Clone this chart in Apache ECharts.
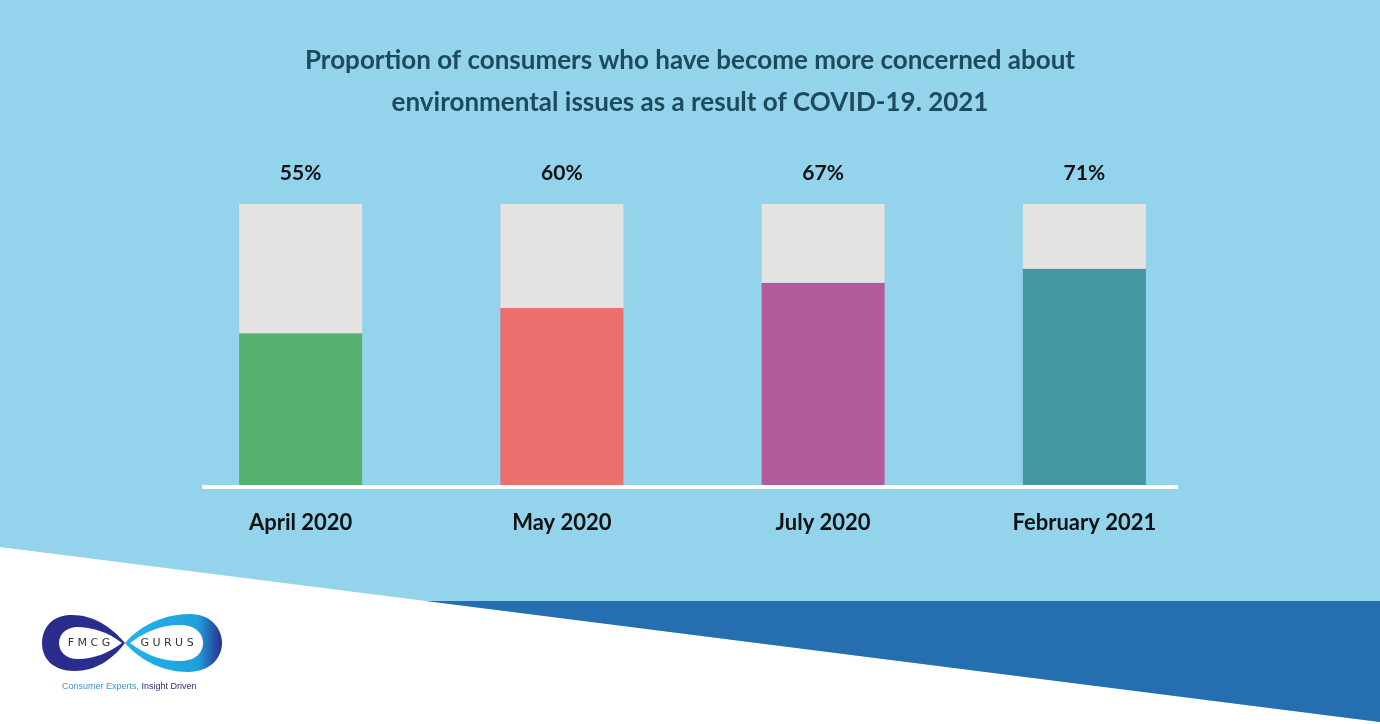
<!DOCTYPE html>
<html>
<head>
<meta charset="utf-8">
<script src="https://cdn.jsdelivr.net/npm/echarts@6/dist/echarts.min.js"></script>
<style>html,body{margin:0;padding:0;background:#93d3ec;}#c{width:1380px;height:724px;}</style>
</head>
<body>
<div id="c"></div>
<script>
// Categories and values
const categories = ['April 2020', 'May 2020', 'July 2020', 'February 2021'];
// Printed percentage labels
const labelValues = [55, 60, 67, 71];
// Bar heights as drawn in the reference (% of the full grey column)
const drawnValues = [54, 63, 72, 77];
const barColors = ['#55b16f', '#ec6f6f', '#b35a9b', '#4396a2'];
const remainder = drawnValues.map(v => 100 - v);

const FONT = 'Lato';

// custom bezier shape for the logo
const BezShape = echarts.graphic.extendShape({
  shape: {start: [0, 0], curves: []},
  buildPath: function (ctx, shape) {
    ctx.moveTo(shape.start[0], shape.start[1]);
    shape.curves.forEach(c => ctx.bezierCurveTo(c[0], c[1], c[2], c[3], c[4], c[5]));
    ctx.closePath();
  }
});
echarts.graphic.registerShape('bez', BezShape);

const chart = echarts.init(document.getElementById('c'), null, {renderer: 'canvas'});

const option = {
  backgroundColor: '#93d3ec',
  animation: false,
  title: {
    text: 'Proportion of consumers who have become more concerned about\nenvironmental issues as a result of COVID-19. 2021',
    left: 'center',
    top: 35,
    textStyle: {fontFamily: FONT, fontSize: 26, fontWeight: 'bold', color: '#1d4a5c', lineHeight: 42}
  },
  grid: {left: 170, right: 165, top: 204, bottom: 239},
  xAxis: {
    type: 'category',
    data: categories,
    axisLine: {show: false},
    axisTick: {show: false},
    axisLabel: {margin: 27, fontFamily: FONT, fontSize: 22, fontWeight: 'bold', color: '#111'}
  },
  yAxis: {type: 'value', min: 0, max: 100, show: false, splitLine: {show: false}},
  series: [
    {
      type: 'bar', stack: 'a', barWidth: 123,
      data: drawnValues.map((v, i) => ({value: v, itemStyle: {color: barColors[i]}}))
    },
    {
      type: 'bar', stack: 'a', barWidth: 123,
      itemStyle: {color: '#e4e3e1'},
      data: remainder,
      label: {
        show: true, position: 'top', distance: 20,
        fontFamily: FONT, fontSize: 21, fontWeight: 'bold', color: '#111',
        formatter: p => labelValues[p.dataIndex] + '%'
      }
    }
  ],
  graphic: [
    // white baseline
    {type: 'rect', shape: {x: 202, y: 485, width: 976, height: 4}, style: {fill: '#ffffff'}, z: 10},
    // white lower-left area
    {type: 'polygon', shape: {points: [[0, 547], [1380, 722], [1380, 724], [0, 724]]}, style: {fill: '#ffffff'}},
    // dark blue wedge
    {type: 'polygon', shape: {points: [[426, 601], [1380, 601], [1380, 722]]}, style: {fill: '#256eb0'}},
    // logo (infinity shape)
    {type: 'bez', shape: {start: [125, 643], curves: [[110, 625, 90, 614, 70, 615], [50, 616, 42, 630, 42, 643], [42, 658, 52, 671, 75, 671], [95, 671, 112, 660, 125, 643]]},
      style: {fill: '#2b2d8e'}},
    {type: 'bez', shape: {start: [122, 643], curves: [[108, 632, 92, 627, 76, 627], [64, 628, 59, 636, 59, 643], [59, 651, 65, 659, 78, 659], [95, 659, 110, 652, 122, 643]]},
      style: {fill: '#ffffff'}},
    {type: 'bez', shape: {start: [125, 643], curves: [[140, 625, 165, 614, 190, 614], [212, 614, 222, 630, 222, 643], [222, 658, 210, 672, 188, 672], [162, 672, 140, 660, 125, 643]]},
      style: {fill: new echarts.graphic.LinearGradient(0, 0, 1, 0, [{offset: 0, color: '#1fb5ea'}, {offset: 0.75, color: '#1fa0dc'}, {offset: 1, color: '#2b2d8e'}])}},
    {type: 'bez', shape: {start: [130, 643], curves: [[145, 632, 160, 625, 180, 625], [196, 625, 203, 634, 203, 643], [203, 652, 196, 661, 180, 661], [160, 661, 145, 654, 130, 643]]},
      style: {fill: '#ffffff'}},
    {type: 'text', style: {x: 89, y: 643, text: 'F M C G', fill: '#333', font: '11px "DejaVu Sans"', textAlign: 'center', textVerticalAlign: 'middle'}},
    {type: 'text', style: {x: 167, y: 643, text: 'G U R U S', fill: '#333', font: '11px "DejaVu Sans"', textAlign: 'center', textVerticalAlign: 'middle'}},
    {type: 'text', style: {x: 62, y: 687, text: '{a|Consumer Experts, }{b|Insight Driven}', textVerticalAlign: 'middle',
      rich: {a: {fill: '#3f95c6', fontSize: 9, fontFamily: 'Liberation Sans'}, b: {fill: '#2b2d6e', fontSize: 9, fontFamily: 'Liberation Sans'}}}}
  ]
};
chart.setOption(option);
</script>
</body>
</html>
